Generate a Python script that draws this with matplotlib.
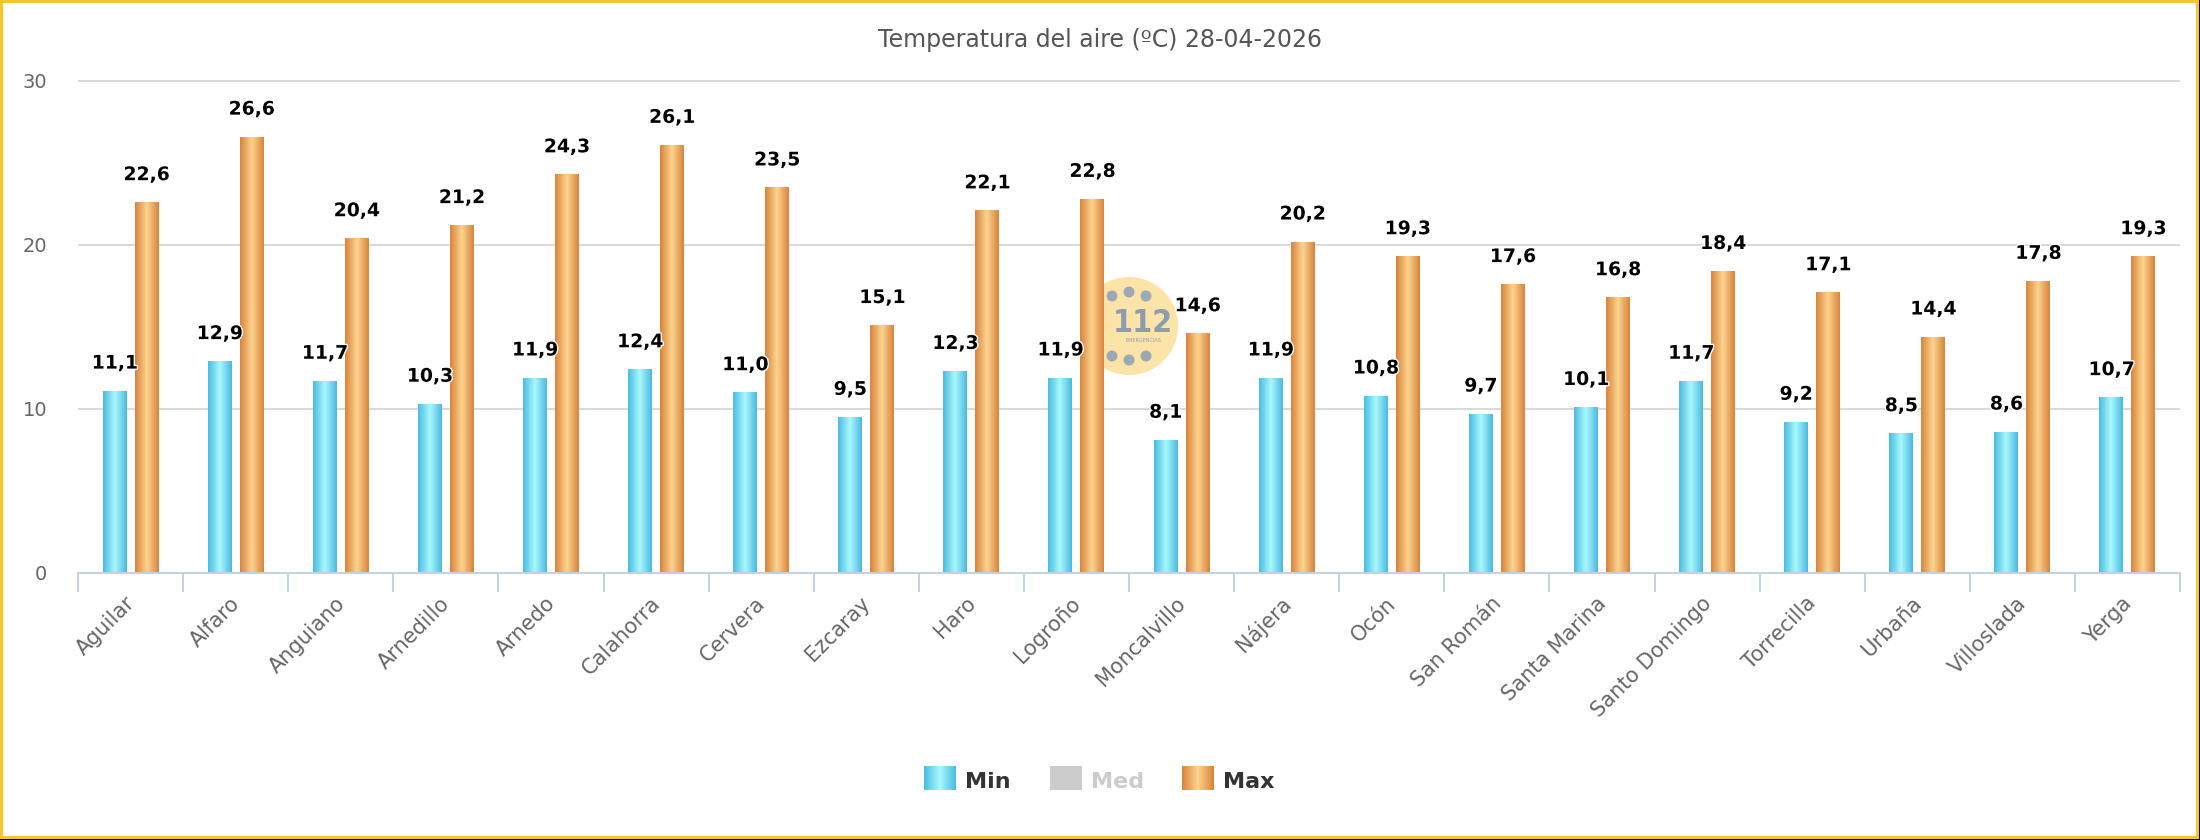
import numpy as np
import matplotlib.pyplot as plt
from matplotlib.colors import LinearSegmentedColormap
from matplotlib.patches import Rectangle, Ellipse
from matplotlib import transforms
import matplotlib.patheffects as pe

# datos: temperatura del aire (ºC) por estación
estaciones = ["Aguilar", "Alfaro", "Anguiano", "Arnedillo", "Arnedo", "Calahorra",
              "Cervera", "Ezcaray", "Haro", "Logroño", "Moncalvillo", "Nájera",
              "Ocón", "San Román", "Santa Marina", "Santo Domingo", "Torrecilla",
              "Urbaña", "Villoslada", "Yerga"]
t_min = [11.1, 12.9, 11.7, 10.3, 11.9, 12.4, 11.0, 9.5, 12.3, 11.9,
         8.1, 11.9, 10.8, 9.7, 10.1, 11.7, 9.2, 8.5, 8.6, 10.7]
t_max = [22.6, 26.6, 20.4, 21.2, 24.3, 26.1, 23.5, 15.1, 22.1, 22.8,
         14.6, 20.2, 19.3, 17.6, 16.8, 18.4, 17.1, 14.4, 17.8, 19.3]
series = ["Min", "Med", "Max"]
y_ticks = [0, 10, 20, 30]
titulo = "Temperatura del aire (ºC) 28-04-2026"

W, H = 2200, 840
def fx(px):
    return px / W
def fy(py):
    return 1 - py / H

cmap_min = LinearSegmentedColormap.from_list("min", ["#4bbce2", "#a9f8fd", "#4bbae1"])
cmap_max = LinearSegmentedColormap.from_list("max", ["#d8843c", "#fdd48e", "#d8843c"])
cmap_med = LinearSegmentedColormap.from_list("med", ["#cccccc", "#cccccc"])
grad = np.linspace(0, 1, 64).reshape(1, -1)

fig = plt.figure(figsize=(W / 100, H / 100), dpi=100, facecolor="white")
# marco amarillo con sombra negra abajo y a la derecha
fig.add_artist(Rectangle((fx(2198), 0), 1, 1, fc="black", ec="none", zorder=-6))
fig.add_artist(Rectangle((0, 0), 1, fy(838), fc="black", ec="none", zorder=-6))
fig.add_artist(Rectangle((fx(1.2), fy(836.8)), fx(2196.8) - fx(1.2), fy(1.2) - fy(836.8),
                         fc="white", ec="#f8c52f", lw=2.2, zorder=-5))

# área de trazado
k = (572.5 - 81) / 30
ax = fig.add_axes([fx(78), fy(572.5), fx(2180) - fx(78), fy(572.5 - 30.2 * k) - fy(572.5)])
ax.patch.set_alpha(0)

x = np.arange(len(estaciones))
ancho = 0.228
sep = 0.152
b_min = ax.bar(x - sep, t_min, ancho, color="#6fd3ee", zorder=2)
b_max = ax.bar(x + sep, t_max, ancho, color="#e9a55e", zorder=2)

for cont, cmap in ((b_min, cmap_min), (b_max, cmap_max)):
    for r in cont:
        x0, y0, w, h = r.get_x(), r.get_y(), r.get_width(), r.get_height()
        im = ax.imshow(grad, cmap=cmap, extent=[x0, x0 + w, y0, y0 + h],
                       aspect="auto", zorder=2.5, interpolation="bilinear")
        im.set_clip_path(r)

ax.set_xlim(-0.5, len(estaciones) - 0.5)
ax.set_ylim(0, 30.2)

# etiquetas de valores
fmt = lambda v: f"{v:.1f}".replace(".", ",")
halo = [pe.withStroke(linewidth=2, foreground="white")]
for cont, vals in ((b_min, t_min), (b_max, t_max)):
    txts = ax.bar_label(cont, labels=[fmt(v) for v in vals], padding=13,
                        fontsize=13.5, fontweight="bold", color="black")
    for t in txts:
        t.set_path_effects(halo)
        t.set_zorder(5)

# ejes
for s in ("left", "right", "top"):
    ax.spines[s].set_visible(False)
ax.spines["bottom"].set_color("#c3d1e2")
ax.spines["bottom"].set_linewidth(1.4)
ax.spines["bottom"].set_zorder(3)

ax.set_yticks(y_ticks)
ax.yaxis.grid(True, color="#d9d9d9", lw=1.4)
ax.set_axisbelow(True)
ax.tick_params(axis="y", length=0, pad=22, labelsize=14, labelcolor="#666666")

ax.set_xticks(x, estaciones, rotation=45, ha="right", va="center",
              rotation_mode="anchor", fontsize=15, color="#666666")
ax.set_xticks(np.arange(-0.5, len(estaciones)), minor=True)
ax.tick_params(axis="x", which="major", length=0, pad=20)
ax.tick_params(axis="x", which="minor", length=13.7, width=1.4, color="#c3d1e2")
desplaza = transforms.ScaledTranslation(0.01, 0, fig.dpi_scale_trans)
for lab in ax.get_xticklabels():
    lab.set_transform(lab.get_transform() + desplaza)

# logo 112 de fondo
tf = fig.transFigure
ax.add_patch(Ellipse((fx(1129), fy(326)), 98 / W, 98 / H, transform=tf,
                     fc="#fce4a8", ec="none", zorder=1.5, clip_on=False))
for px, py in [(1112, 296), (1129, 292), (1146, 296), (1112, 356), (1129, 360), (1146, 356)]:
    ax.add_patch(Ellipse((fx(px), fy(py)), 11 / W, 11 / H, transform=tf,
                         fc="#9ca8b4", ec="none", zorder=1.6, clip_on=False))
ax.text(fx(1143), fy(323), "112", transform=tf, ha="center", va="center",
        fontsize=23, fontweight="bold", color="#8e9dad", zorder=1.6,
        fontstretch="condensed")
ax.text(fx(1143), fy(341), "EMERGENCIAS", transform=tf, ha="center", va="center",
        fontsize=3.5, color="#8e9dad", zorder=1.6)

# título
fig.text(0.5, fy(40), titulo, ha="center", va="center", fontsize=17, color="#555555")

# leyenda
ley_x = [924, 1050, 1182]
ley_cmap = [cmap_min, cmap_med, cmap_max]
ley_color = ["#333333", "#cccccc", "#333333"]
for nombre, px, cm, col in zip(series, ley_x, ley_cmap, ley_color):
    lax = fig.add_axes([fx(px), fy(790), 32 / W, 24 / H])
    lax.imshow(grad, cmap=cm, aspect="auto", interpolation="bilinear")
    lax.axis("off")
    fig.text(fx(px + 41), fy(788), nombre, ha="left", va="baseline",
             fontsize=16, fontweight="bold", color=col)

fig.savefig("out.png", dpi=100)
